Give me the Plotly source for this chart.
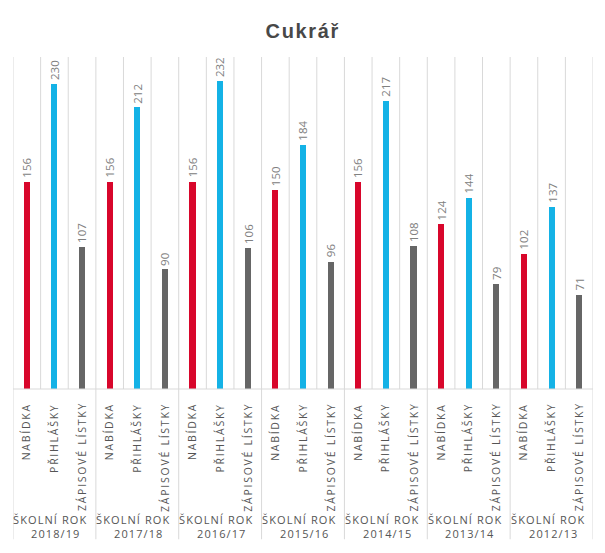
import plotly.graph_objects as go

years = ["2018/19", "2017/18", "2016/17", "2015/16", "2014/15", "2013/14", "2012/13"]
series_names = ["NABÍDKA", "PŘIHLÁŠKY", "ZÁPISOVÉ LÍSTKY"]
nabidka = [156, 156, 156, 150, 156, 124, 102]
prihlasky = [230, 212, 232, 184, 217, 144, 137]
zapisove = [107, 90, 106, 96, 108, 79, 71]
series_values = [nabidka, prihlasky, zapisove]
colors = ["#D8062B", "#14B2E6", "#666666"]

n_series = len(series_names)
n_groups = len(years)
n_cat = n_series * n_groups

# page has an 8px body margin; work in page coordinates and subtract it
OFF = 8
W, H = 605 - 2 * OFF, 553 - 2 * OFF
left_pg, right_pg = 13, 593
top_pg, base_pg = 57, 389.5
plot_h = base_pg - top_pg

def py(p):
    return (base_pg - p) / plot_h

HAIR = "\u200a"
THIN = "\u2009"
FONT = "Open Sans, Arial, sans-serif"

fig = go.Figure()
annotations = []
for s, (name, vals, col) in enumerate(zip(series_names, series_values, colors)):
    xs = [g * n_series + s for g in range(n_groups)]
    fig.add_trace(go.Bar(
        x=xs, y=vals, name=name, marker=dict(color=col, line=dict(width=0)),
        width=0.22, hoverinfo="skip",
    ))
    for x, v in zip(xs, vals):
        annotations.append(dict(
            x=x, xref="x", y=v, yref="y", text=str(v), textangle=-90,
            showarrow=False, xanchor="center", yanchor="bottom", yshift=2,
            font=dict(family=FONT, size=11.5, color="#808080")))

shapes = []
grid_col = "#d9d9d9"
for k in range(n_cat + 1):
    xb = k - 0.5
    y0 = py(540) if k % n_series == 0 else 0
    shapes.append(dict(type="line", xref="x", yref="paper", x0=xb, x1=xb,
                       y0=y0, y1=1, line=dict(color=grid_col, width=1)))
shapes.append(dict(type="line", xref="x", yref="paper", x0=-0.5, x1=n_cat - 0.5,
                   y0=0, y1=0, line=dict(color=grid_col, width=1)))

def spaced(t, sep):
    return sep.join(list(t))

lab_font = dict(family=FONT, size=10.5, color="#555555")
grp_font = dict(family=FONT, size=11, color="#555555")
for g in range(n_groups):
    for s, name in enumerate(series_names):
        annotations.append(dict(
            x=g * n_series + s, xref="x", y=py(403), yref="paper",
            text=spaced(name, THIN), textangle=-90, showarrow=False,
            xanchor="center", yanchor="top", font=lab_font))
    gc = g * n_series + (n_series - 1) / 2
    annotations.append(dict(x=gc, xref="x", y=py(520), yref="paper",
                            text=spaced("ŠKOLNÍ ROK", HAIR), showarrow=False, xshift=-4,
                            xanchor="center", yanchor="middle", font=grp_font))
    annotations.append(dict(x=gc, xref="x", y=py(534), yref="paper",
                            text=spaced(years[g], HAIR), showarrow=False, xshift=1,
                            xanchor="center", yanchor="middle", font=grp_font))

fig.update_layout(
    width=W, height=H,
    margin=dict(l=left_pg - OFF, r=W - (right_pg - OFF), t=top_pg - OFF,
                b=H - (base_pg - OFF), pad=0),
    paper_bgcolor="white", plot_bgcolor="white",
    showlegend=False,
    title=dict(text="<b>" + spaced("Cukrář", HAIR) + "</b>", x=(302 - OFF) / W,
               xanchor="center", y=1 - (31 - OFF) / H, yanchor="middle", yref="container",
               font=dict(family="Liberation Sans, Arial, sans-serif", size=20, color="#484848")),
    xaxis=dict(range=[-0.5, n_cat - 0.5], showgrid=False, zeroline=False,
               showticklabels=False, ticks="", fixedrange=True),
    yaxis=dict(range=[0, 250], showgrid=False, zeroline=False,
               showticklabels=False, ticks="", fixedrange=True),
    bargap=0, barmode="overlay",
    shapes=shapes, annotations=annotations,
)

fig.write_html("out.html")
